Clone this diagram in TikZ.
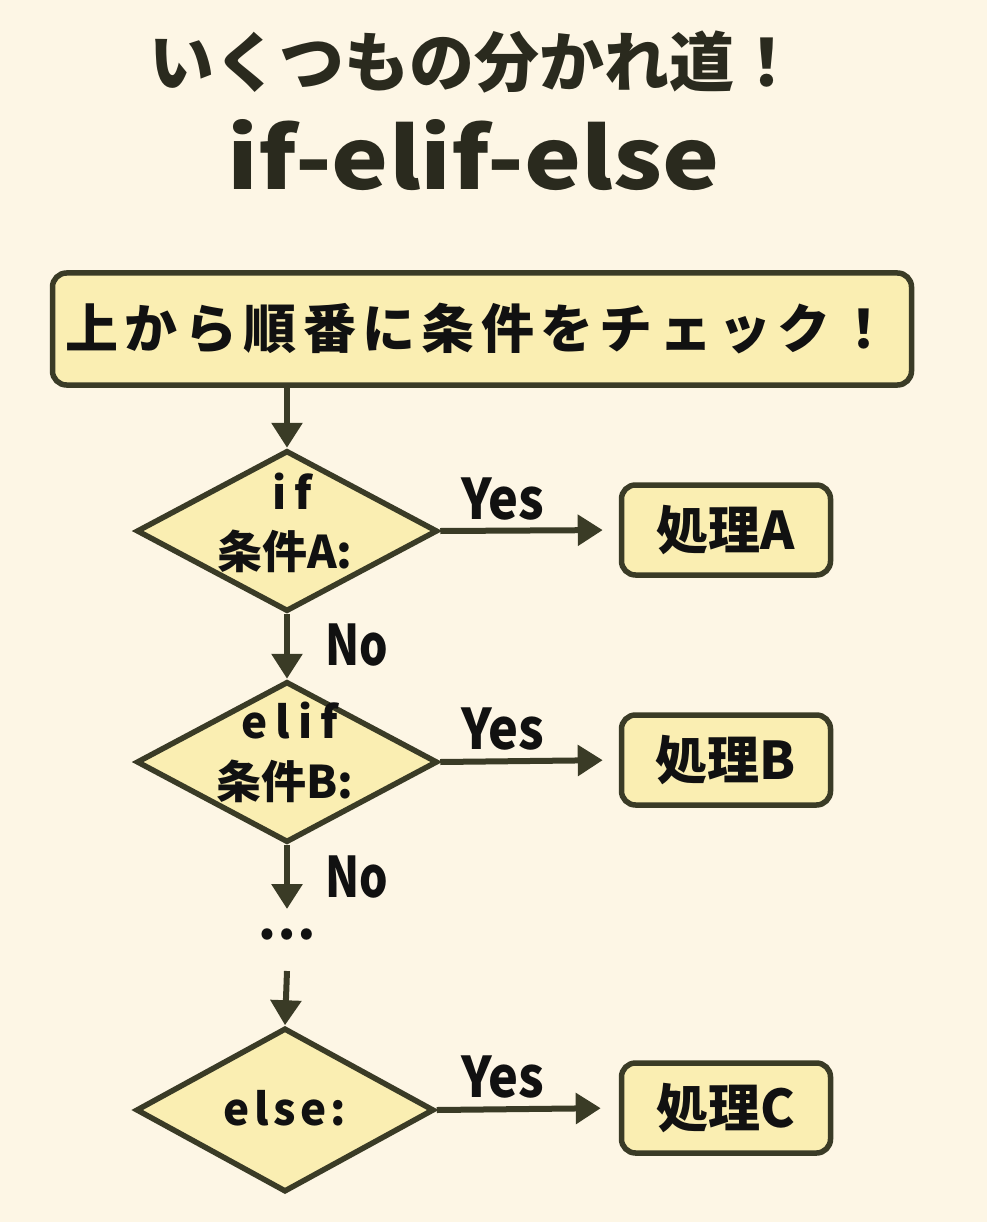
\documentclass[tikz,border=0pt]{standalone}
\usepackage{fontspec}
\usetikzlibrary{shapes.geometric,arrows.meta}
\setmainfont{Noto Sans CJK JP}
\newfontfamily\jpspaced{Noto Sans CJK JP}[LetterSpace=12]
\newfontfamily\monospaced{Noto Sans CJK JP}[LetterSpace=18]
\newfontfamily\monospacedb{Noto Sans CJK JP}[LetterSpace=10]
\definecolor{bg}{HTML}{FDF6E5}
\definecolor{boxfill}{HTML}{FAEEB2}
\definecolor{linec}{HTML}{3A3B26}
\definecolor{txt}{HTML}{111111}
\definecolor{titlec}{HTML}{2A2A1E}
\tikzset{
  procbox/.style={draw=linec, fill=boxfill, line width=5.5pt, rounded corners=14pt, inner sep=0pt},
  decision/.style={diamond, draw=linec, fill=boxfill, line width=5.5pt, inner sep=0pt, minimum width=301pt, minimum height=161pt},
  flow/.style={draw=linec, line width=6pt, -{Triangle[length=25pt,width=30pt]}},
  lbl/.style={text=txt, font=\bfseries, inner sep=0pt},
}
\begin{document}
\begin{tikzpicture}[x=1pt,y=-1pt]
\path[fill=bg] (0,0) rectangle (987,1222);
% title
\node[text=titlec, font=\fontsize{65}{65}\selectfont\bfseries, inner sep=0pt] (t1) at (474,62) {いくつもの分かれ道！};
\node[text=titlec, inner sep=0pt] (t2) at (474,155) {\resizebox{492pt}{70pt}{\bfseries if-elif-else}};
% start box
\node[procbox, minimum width=859pt, minimum height=112pt] (start) at (482,329) {};
\node[lbl, font=\fontsize{53}{53}\selectfont\bfseries\jpspaced] (starttxt) at (478,329) {上から順番に条件をチェック！};
% decisions
\node[decision] (dA) at (287,531) {};
\node[lbl, font=\fontsize{44}{44}\selectfont\bfseries\monospaced] (dA1) at (292,491) {if};
\node[lbl, font=\fontsize{45}{45}\selectfont\bfseries] (dA2) at (285,551) {条件A:};
\node[decision] (dB) at (287,762) {};
\node[lbl, font=\fontsize{44}{44}\selectfont\bfseries\monospaced] (dB1) at (290,721) {elif};
\node[lbl, font=\fontsize{45}{45}\selectfont\bfseries] (dB2) at (285,781) {条件B:};
\node[decision, minimum width=298pt, minimum height=164pt] (dC) at (285,1110) {};
\node[lbl, font=\fontsize{44}{44}\selectfont\bfseries\monospacedb] (dC1) at (285,1108) {else:};
% process boxes
\node[procbox, minimum width=209pt, minimum height=90pt] (pA) at (726,530) {};
\node[lbl, font=\fontsize{52}{52}\selectfont\bfseries] (pAt) at (726,530) {処理A};
\node[procbox, minimum width=209pt, minimum height=90pt] (pB) at (726,760) {};
\node[lbl, font=\fontsize{52}{52}\selectfont\bfseries] (pBt) at (726,760) {処理B};
\node[procbox, minimum width=209pt, minimum height=90pt] (pC) at (726,1108) {};
\node[lbl, font=\fontsize{52}{52}\selectfont\bfseries] (pCt) at (726,1108) {処理C};
% dots
\node[lbl, font=\fontsize{52}{52}\selectfont\bfseries] (dots) at (287,934) {…};
\coordinate (dotsin) at (287,909);
\coordinate (dotsout) at (287,971);
% connectors
\draw[flow] (start.south -| dA.north) -- (dA.north);
\draw[flow] (dA.south) -- (dB.north);
\draw[flow] (dB.south) -- (dotsin);
\draw[flow] (dotsout) -- (dC.north);
\draw[flow, shorten >=16pt] (dA.east) -- (pA.west);
\draw[flow, shorten >=16pt] (dB.east) -- (pB.west);
\draw[flow, shorten >=18pt] (dC.east) -- (pC.west);
% edge labels
\node[lbl, font=\fontsize{56}{56}\selectfont\bfseries, xscale=0.9] (yA) at (503,499) {Yes};
\node[lbl, font=\fontsize{56}{56}\selectfont\bfseries, xscale=0.9] (yB) at (503,729) {Yes};
\node[lbl, font=\fontsize{56}{56}\selectfont\bfseries, xscale=0.9] (yC) at (503,1077) {Yes};
\node[lbl, font=\fontsize{56}{56}\selectfont\bfseries, xscale=0.8] (nA) at (357,645) {No};
\node[lbl, font=\fontsize{56}{56}\selectfont\bfseries, xscale=0.8] (nB) at (357,877) {No};
\end{tikzpicture}
\end{document}
